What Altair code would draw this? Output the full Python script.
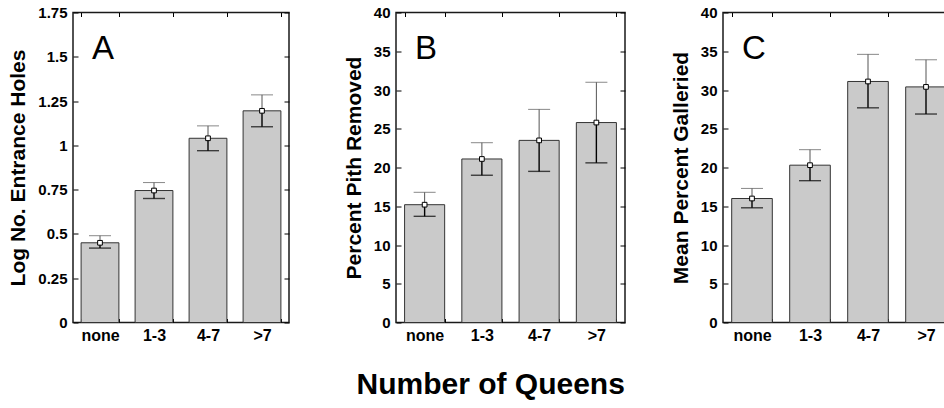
import altair as alt
import pandas as pd

cats = ["none", "1-3", "4-7", ">7"]

a_mean = [0.45, 0.745, 1.04, 1.195]
a_lo = [0.42, 0.70, 0.97, 1.105]
a_hi = [0.49, 0.79, 1.11, 1.285]

b_mean = [15.2, 21.1, 23.5, 25.8]
b_lo = [13.7, 19.0, 19.5, 20.6]
b_hi = [16.8, 23.2, 27.5, 31.0]

c_mean = [16.0, 20.3, 31.1, 30.4]
c_lo = [14.8, 18.3, 27.7, 26.9]
c_hi = [17.3, 22.3, 34.6, 33.9]

letters = ["A", "B", "C"]
y_titles = ["Log No. Entrance Holes", "Percent Pith Removed", "Mean Percent Galleried"]
a_ticks = [0, 0.25, 0.5, 0.75, 1, 1.25, 1.5, 1.75]
bc_ticks = [0, 5, 10, 15, 20, 25, 30, 35, 40]
x_title = "Number of Queens"

FONT = "Liberation Sans"


def panel(letter, means, los, his, ytitle, ydomain, yticks, width):
    df = pd.DataFrame({"cat": cats, "mean": means, "lo": los, "hi": his})
    lab = pd.DataFrame({"lab": [letter]})
    xs = alt.Scale(domain=cats, paddingInner=0.3, paddingOuter=0.15)
    ys = alt.Scale(domain=ydomain, nice=False, zero=True)
    base = alt.Chart(df)

    x_bottom = alt.X("cat:N", scale=xs, sort=cats, axis=alt.Axis(
        orient="bottom", title=None, labelAngle=0, tickBand="extent",
        offset=-4, tickSize=4, domain=False, labelPadding=5,
        labelFontSize=16, labelFontWeight="bold", labelColor="black",
        tickColor="black", tickWidth=1, grid=False))
    y_left = alt.Y("mean:Q", scale=ys, axis=alt.Axis(
        orient="left", title=ytitle, values=yticks, labelExpr="datum.value + ''",
        offset=-5, tickSize=5, domain=False, labelPadding=6,
        labelFontSize=15, labelFontWeight="bold", labelColor="black",
        tickColor="black", tickWidth=1, grid=False,
        titleFontSize=21, titleFontWeight="bold", titleColor="black",
        titlePadding=9))
    xn = alt.X("cat:N", scale=xs, sort=cats, axis=None)

    bars = base.mark_bar(fill="#cacaca", stroke="#333333", strokeWidth=1).encode(x=x_bottom, y=y_left)
    lower = base.mark_rule(color="black", strokeWidth=1.4).encode(
        x=xn, y=alt.Y("lo:Q", scale=ys, axis=None), y2="mean:Q")
    upper = base.mark_rule(color="#555555", strokeWidth=1).encode(
        x=xn, y=alt.Y("mean:Q", scale=ys, axis=None), y2="hi:Q")
    cap_lo = base.mark_tick(color="black", size=22, thickness=1.4).encode(
        x=xn, y=alt.Y("lo:Q", scale=ys, axis=None))
    cap_hi = base.mark_tick(color="#555555", size=22, thickness=1).encode(
        x=xn, y=alt.Y("hi:Q", scale=ys, axis=None))
    pts = base.mark_square(size=22, fill="white", stroke="black", strokeWidth=1, opacity=1).encode(
        x=xn, y=alt.Y("mean:Q", scale=ys, axis=None))
    letter_txt = alt.Chart(lab).mark_text(
        font=FONT, fontSize=33, fontWeight="normal", align="left", baseline="alphabetic", color="black"
    ).encode(text="lab:N", x=alt.value(19), y=alt.value(46))
    frame_axes = base.mark_point(opacity=0).encode(
        x=alt.X("cat:N", scale=xs, sort=cats, axis=alt.Axis(
            orient="top", title=None, labels=False, tickBand="extent", offset=-4,
            tickSize=4, domain=False, tickColor="black", tickWidth=1, grid=False)),
        y=alt.Y("mean:Q", scale=ys, axis=alt.Axis(
            orient="right", title=None, labels=False, values=yticks, offset=-5,
            tickSize=5, domain=False, tickColor="black", tickWidth=1, grid=False)))

    return alt.layer(bars, lower, upper, cap_lo, cap_hi, pts, letter_txt, frame_axes).resolve_axis(
        x="independent", y="independent").properties(width=width, height=310)


pa = panel(letters[0], a_mean, a_lo, a_hi, y_titles[0], [0, 1.75], a_ticks, 216)
pb = panel(letters[1], b_mean, b_lo, b_hi, y_titles[1], [0, 40], bc_ticks, 229)
pc = panel(letters[2], c_mean, c_lo, c_hi, y_titles[2], [0, 40], bc_ticks, 232)

chart = alt.hconcat(alt.hconcat(pa, pb, spacing=51), pc, spacing=42).properties(
    title=alt.TitleParams(x_title, orient="bottom", anchor="middle", fontSize=30,
                          fontWeight="bold", font=FONT, color="black", offset=26, dx=9),
    padding={"left": 7, "top": 4.5, "right": -13, "bottom": 0},
).configure(font=FONT).configure_view(stroke="#1a1a1a", strokeWidth=1.5).configure_axis(
    labelFont=FONT, titleFont=FONT)

chart.save("out.html", embed_options={"renderer": "svg", "actions": False})
